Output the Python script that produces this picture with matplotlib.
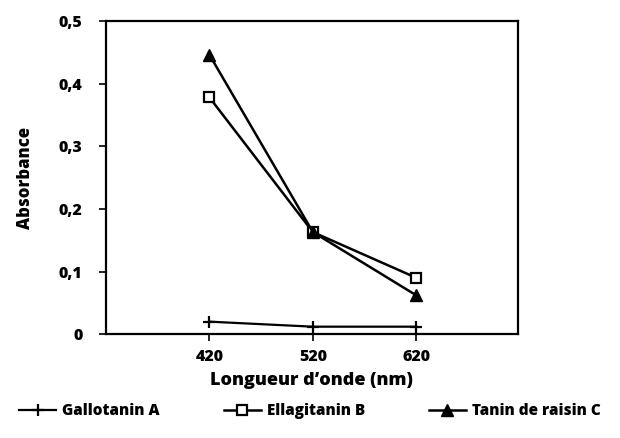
import numpy as np
import matplotlib.pyplot as plt

wavelength = [420, 520, 620]
gallotanin_a = [0.020, 0.012, 0.012]
ellagitanin_b = [0.378, 0.163, 0.090]
tanin_raisin_c = [0.446, 0.163, 0.062]
y_ticks = [0, 0.1, 0.2, 0.3, 0.4, 0.5]
y_labels = ['0', '0,1', '0,2', '0,3', '0,4', '0,5']

plt.rcParams['font.family'] = ['Open Sans', 'DejaVu Sans']
plt.rcParams['font.weight'] = 'heavy'

fig = plt.figure(figsize=(6.2, 4.38), dpi=100, facecolor='w')
ax = fig.add_axes([0.171, 0.237, 0.664, 0.715])

ax.plot(wavelength, gallotanin_a, c='k', lw=1.6, marker='+', ms=9, mew=1.6,
        label='Gallotanin A')
ax.plot(wavelength, ellagitanin_b, c='k', lw=1.8, marker='s', ms=7, mew=1.6,
        mfc='w', label='Ellagitanin B')
ax.plot(wavelength, tanin_raisin_c, c='k', lw=1.8, marker='^', ms=9,
        mfc='k', label='Tanin de raisin C')

ax.set_xlim(320, 718)
ax.set_ylim(0, 0.5)
ax.set_xticks(wavelength)
ax.set_yticks(y_ticks)
ax.set_yticklabels(y_labels)
for s in ax.spines.values():
    s.set_linewidth(1.6)
ax.tick_params(direction='out', length=5, width=1.2, labelsize=11.5)
ax.tick_params(axis='y', pad=12)
ax.tick_params(axis='x', pad=6)
ax.set_xlabel("Longueur d\u2019onde (nm)", fontsize=13, fontweight='heavy', labelpad=5)
ax.set_ylabel('Absorbance', fontsize=12, fontweight='heavy', labelpad=18)

fig.legend(loc='lower center', bbox_to_anchor=(0.5, 0.012), ncol=3, frameon=False,
           columnspacing=4.2, handlelength=2.4, handletextpad=0.4,
           prop={'weight': 'heavy', 'size': 11})

plt.savefig('out.png', dpi=100)
